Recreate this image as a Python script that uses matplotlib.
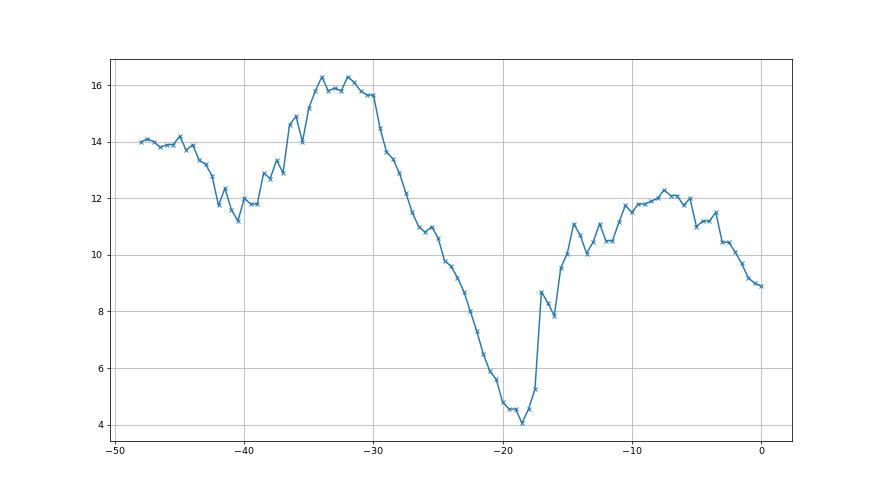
import matplotlib
matplotlib.use("Agg")
import matplotlib.pyplot as plt
import numpy as np

# time offsets, step 0.5 from -48 to 0
x_vals = np.arange(-48, 0.01, 0.5)

y_vals = [
    14.0, 14.1, 14.0, 13.8, 13.9, 13.9, 14.2, 13.7, 13.9, 13.35,
    13.2, 12.8, 11.75, 12.35, 11.6, 11.2, 12.0, 11.8, 11.8, 12.9,
    12.7, 13.35, 12.9, 14.6, 14.9, 14.0, 15.2, 15.8, 16.3, 15.8,
    15.9, 15.8, 16.3, 16.1, 15.8, 15.65, 15.65, 14.5, 13.65, 13.4,
    12.9, 12.2, 11.5, 11.0, 10.8, 11.0, 10.6, 9.8, 9.6, 9.2,
    8.7, 8.0, 7.3, 6.5, 5.9, 5.6, 4.8, 4.55, 4.55, 4.05,
    4.55, 5.25, 8.7, 8.3, 7.85, 9.55, 10.05, 11.1, 10.7, 10.05,
    10.45, 11.1, 10.5, 10.5, 11.15, 11.75, 11.5, 11.8, 11.8, 11.9,
    12.0, 12.3, 12.1, 12.1, 11.75, 12.0, 11.0, 11.2, 11.2, 11.5,
    10.45, 10.45, 10.1, 9.7, 9.2, 9.0, 8.9,
]

fig = plt.figure(figsize=(12.8, 7.2), dpi=68.75)
ax = fig.add_subplot(111)
ax.plot(x_vals, y_vals, marker='x', markersize=4.5)
ax.grid(True)

fig.savefig("out.png", dpi=68.75)
